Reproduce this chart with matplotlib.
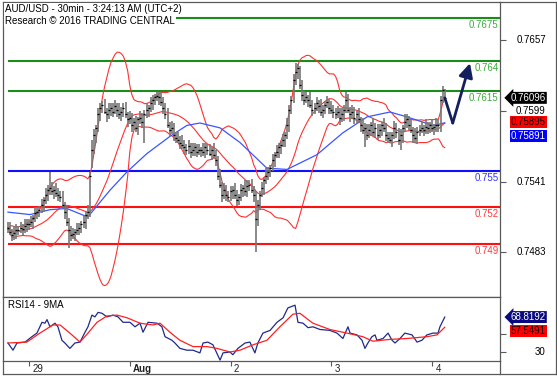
import numpy as np
import pandas as pd
import matplotlib
matplotlib.use("Agg")
import matplotlib.pyplot as plt
import matplotlib.transforms as mtransforms
from matplotlib.lines import Line2D

plt.rcParams['font.family'] = ['Liberation Sans', 'DejaVu Sans']
plt.rcParams['font.size'] = 7

# AUD/USD 30min bars, Jul 28 19:00 -> Aug 4 03:00
closes = [
    .7503, .7500, .7497, .7499, .7501, .7501, .7503, .7502, .7505, .7506,
    .7506, .7508, .7511, .7515, .7516, .7518, .7522, .7526, .7530, .7534,
    .7536, .7533, .7534, .7532, .7530, .7528, .7522, .7516, .7508, .7501,
    .7497, .7498, .7500, .7501, .7503, .7506, .7508, .7514, .7516, .7546,
    .7567, .7579, .7585, .7596, .7601, .7604, .7598, .7596, .7600, .7601,
    .7598, .7603, .7600, .7596, .7598, .7601, .7596, .7592, .7593, .7587,
    .7590, .7585, .7592, .7593, .7590, .7596, .7600, .7601, .7605, .7608,
    .7610, .7611, .7610, .7606, .7601, .7596, .7587, .7583, .7585, .7579,
    .7577, .7575, .7573, .7571, .7569, .7567, .7570, .7565, .7567, .7569,
    .7565, .7567, .7567, .7565, .7569, .7567, .7564, .7567, .7563, .7559,
    .7546, .7538, .7530, .7534, .7530, .7528, .7533, .7534, .7530, .7526,
    .7528, .7534, .7536, .7533, .7537, .7538, .7534, .7530, .7510, .7522,
    .7530, .7536, .7542, .7546, .7549, .7552, .7559, .7563, .7565, .7569,
    .7571, .7575, .7579, .7587, .7600, .7608, .7624, .7631, .7634, .7620,
    .7612, .7608, .7610, .7608, .7604, .7600, .7601, .7605, .7603, .7598,
    .7600, .7604, .7606, .7601, .7600, .7598, .7596, .7598, .7593, .7596,
    .7600, .7608, .7600, .7596, .7598, .7593, .7596, .7592, .7587, .7583,
    .7585, .7579, .7583, .7587, .7582, .7585, .7579, .7583, .7587, .7585,
    .7579, .7577, .7575, .7579, .7585, .7582, .7575, .7579, .7585, .7590,
    .7592, .7587, .7583, .7579, .7577, .7582, .7583, .7585, .7583, .7586,
    .7585, .7587, .7585, .7586, .7587, .7587, .7608, .7616, .76096,
]
highs = [
    .7508, .7508, .7502, .7505, .7506, .7505, .7508, .7506, .7510, .7510,
    .7510, .7513, .7514, .7520, .7520, .7521, .7527, .7528, .7536, .7538,
    .7549, .7541, .7537, .7540, .7536, .7533, .7533, .7524, .7522, .7511,
    .7505, .7503, .7502, .7507, .7507, .7509, .7513, .7516, .7522, .7549,
    .7575, .7584, .7587, .7601, .7605, .7607, .7609, .7601, .7605, .7605,
    .7605, .7608, .7605, .7605, .7602, .7605, .7606, .7598, .7599, .7597,
    .7593, .7595, .7594, .7599, .7597, .7600, .7605, .7604, .7610, .7612,
    .7613, .7614, .7614, .7614, .7610, .7605, .7601, .7590, .7591, .7589,
    .7582, .7582, .7578, .7579, .7575, .7572, .7575, .7573, .7573, .7573,
    .7572, .7572, .7569, .7573, .7573, .7572, .7572, .7569, .7573, .7567,
    .7562, .7551, .7541, .7540, .7538, .7533, .7537, .7537, .7540, .7534,
    .7531, .7539, .7538, .7542, .7542, .7542, .7543, .7537, .7533, .7526,
    .7533, .7541, .7545, .7552, .7553, .7555, .7564, .7565, .7571, .7573,
    .7574, .7580, .7582, .7593, .7604, .7611, .7629, .7638, .7637, .7636,
    .7624, .7615, .7614, .7612, .7614, .7608, .7605, .7610, .7608, .7609,
    .7604, .7607, .7611, .7609, .7607, .7604, .7601, .7603, .7601, .7601,
    .7604, .7614, .7613, .7602, .7604, .7602, .7599, .7601, .7594, .7593,
    .7589, .7588, .7588, .7590, .7593, .7589, .7588, .7588, .7590, .7593,
    .7589, .7582, .7582, .7582, .7591, .7589, .7585, .7584, .7587, .7596,
    .7596, .7595, .7592, .7586, .7585, .7586, .7587, .7590, .7587, .7592,
    .7590, .7590, .7592, .7588, .7593, .7592, .7611, .7619, .7617,
]
lows = [
    .7499, .7497, .7492, .7493, .7494, .7497, .7499, .7497, .7499, .7500,
    .7501, .7504, .7502, .7508, .7510, .7512, .7515, .7516, .7523, .7525,
    .7530, .7530, .7527, .7528, .7525, .7524, .7519, .7510, .7505, .7487,
    .7492, .7494, .7492, .7497, .7497, .7499, .7503, .7502, .7510, .7512,
    .7552, .7564, .7573, .7582, .7591, .7597, .7596, .7590, .7592, .7595,
    .7594, .7596, .7594, .7592, .7591, .7594, .7593, .7586, .7588, .7582,
    .7583, .7582, .7579, .7588, .7585, .7573, .7593, .7594, .7598, .7600,
    .7604, .7607, .7604, .7603, .7596, .7592, .7585, .7578, .7580, .7574,
    .7573, .7573, .7568, .7568, .7564, .7563, .7564, .7560, .7562, .7562,
    .7561, .7563, .7561, .7562, .7560, .7563, .7562, .7559, .7560, .7554,
    .7542, .7536, .7524, .7527, .7525, .7524, .7525, .7527, .7527, .7521,
    .7522, .7525, .7528, .7529, .7528, .7533, .7532, .7524, .7483, .7505,
    .7518, .7528, .7530, .7539, .7542, .7545, .7550, .7553, .7560, .7560,
    .7564, .7569, .7569, .7576, .7582, .7596, .7605, .7620, .7625, .7617,
    .7607, .7604, .7605, .7602, .7601, .7595, .7596, .7599, .7597, .7595,
    .7593, .7596, .7601, .7596, .7596, .7593, .7592, .7593, .7587, .7590,
    .7591, .7597, .7597, .7590, .7592, .7588, .7589, .7589, .7582, .7580,
    .7569, .7575, .7577, .7578, .7578, .7577, .7575, .7577, .7578, .7582,
    .7574, .7573, .7573, .7569, .7576, .7577, .7571, .7567, .7573, .7582,
    .7585, .7583, .7581, .7573, .7573, .7572, .7578, .7581, .7578, .7580,
    .7580, .7581, .7582, .7579, .7582, .7582, .7582, .7605, .7607,
]

# slow moving average (blue)
ma_bars = [0, 10.5, 20, 28, 38, 48.6, 56.7, 66.2, 77.1, 85.2, 91.4, 101,
           110.5, 123.3, 132.9, 147.1, 159.5, 171, 181.9, 190, 202.4, 208]
ma_vals = [.7516, .7514, .7518, .7519, .7512, .7534, .7549, .7564, .7578,
           .7587, .7589, .7585, .7573, .7552, .7551, .7563, .7581, .7594,
           .7598, .7594, .7587, .75891]

rsi_bars = [0, 2.4, 4.3, 8.1, 11.4, 13.8, 16.2, 17.6, 18.6, 20, 22.4, 23.8,
            25.7, 27.1, 29.5, 31.9, 34.3, 36.7, 38.1, 40, 41.4, 42.9, 44.8,
            47.1, 50, 52.4, 54.8, 58.1, 60.5, 62.9, 64.3, 66.7, 71, 73.3,
            74.8, 78.1, 79.5, 81.9, 85.2, 88.1, 91.4, 92.9, 95.2, 97.6, 101,
            102.4, 105.7, 107.1, 109.5, 112.9, 115.2, 117.6, 119, 121.4,
            124.8, 128.1, 131, 133.3, 136.7, 138.1, 140.5, 142.9, 145.2,
            148.6, 153.3, 156.7, 159.5, 161.9, 162.9, 166.2, 168.6, 170,
            171.4, 173.3, 174.8, 175.7, 178.6, 181, 182.9, 184.3, 186.7, 189,
            192.4, 194.8, 197.1, 199.5, 202.4, 204.8, 205.7, 208]
rsi_vals = [40, 32, 40, 41, 47, 51, 63, 62, 66, 58, 62, 58, 43, 40, 34, 40,
            41, 52, 58, 71, 69, 74, 73, 69, 71, 69, 63, 63, 58, 62, 52, 63,
            62, 58, 47, 43, 40, 34, 32, 32, 29, 40, 41, 38, 21, 29, 30, 27,
            34, 40, 41, 29, 40, 51, 54, 63, 68, 79, 82, 63, 62, 57, 58, 55,
            54, 51, 45, 58, 51, 49, 43, 34, 40, 47, 49, 43, 45, 51, 43, 40,
            45, 51, 49, 41, 43, 49, 51, 51, 58, 68.8]
rsi_ma_bars = [0, 9, 15.2, 21.4, 24.8, 29.5, 34.3, 38.1, 42.4, 47.1, 51.9,
               56.7, 62.9, 69, 72.4, 77.1, 81.9, 88.1, 94.8, 99.5, 105.7,
               110.5, 116.7, 123.3, 129.5, 135.7, 139, 145.2, 153.3, 161.4,
               169, 173.8, 181.9, 190, 199.5, 204.3, 208]
rsi_ma_vals = [40, 41, 51, 60, 60, 51, 41, 51, 63, 70, 71, 68, 62, 60, 62,
               52, 43, 36, 36, 34, 30, 32, 38, 43, 58, 72, 73, 62, 55, 51,
               47, 42, 44, 45, 47, 49, 57.5]

resistances = [0.7615, 0.764, 0.7675]
pivot = 0.755
supports = [0.752, 0.749]
price_ticks = [0.7657, 0.7599, 0.7541, 0.7483]
rsi_ticks = [30, 50]
day_bars = [10, 58, 106, 154, 202]
day_labels = ['29', 'Aug', '2', '3', '4']

last_price = '0.76096'
bb_mid_last = '0.75895'
ma_last = '0.75891'
rsi_last = '68.8192'
rsi_ma_last = '57.5491'

forecast_bars = [208, 211.8, 220]
forecast_prices = [0.76096, 0.7589, 0.7638]

# bollinger 20, 2
bars = np.arange(len(closes))
s = pd.Series(closes)
bb_mid = s.rolling(20, min_periods=1).mean()
bb_sd = s.rolling(20, min_periods=1).std(ddof=0)
bb_up = bb_mid + 2 * bb_sd
bb_dn = bb_mid - 2 * bb_sd

W, H = 557, 378
fig = plt.figure(figsize=(W / 100, H / 100), dpi=100)
ax = fig.add_axes([2.5 / W, 81 / H, 497.5 / W, 295 / H])
ax2 = fig.add_axes([2.5 / W, 17 / H, 497.5 / W, 64 / H], sharex=ax)

frame = '#5a5a5a'
for a in (ax, ax2):
    for sp in a.spines.values():
        sp.set_color(frame)
        sp.set_linewidth(0.9)

ax.set_xlim(-2.6, 234.3)
ax.set_ylim(0.74465, 0.76881)
ax2.set_ylim(20, 91.1)

x_end = ax.get_xlim()[1]
ax.hlines(resistances, 0, x_end, color='#1a8c1a', lw=1.5, zorder=2)
ax.hlines([pivot], 0, x_end, color='#1010ff', lw=1.5, zorder=2)
ax.hlines(supports, 0, x_end, color='#ff1010', lw=1.5, zorder=2)

blend = mtransforms.blended_transform_factory(ax.transAxes, ax.transData)
levels = [(v, '#3cab3c') for v in resistances] + [(pivot, '#3434ff')] + \
         [(v, '#ff3a3a') for v in supports]
for lv, col in levels:
    ax.annotate(f'{lv:g}', xy=(1, lv), xycoords=blend, xytext=(-1, -5),
                textcoords='offset points', ha='right', va='center',
                color=col, fontsize=7)

ax.plot(bars, bb_up, color='#ff3030', lw=0.8, zorder=3)
ax.plot(bars, bb_mid, color='#ff3030', lw=0.8, zorder=3)
ax.plot(bars, bb_dn, color='#ff3030', lw=0.8, zorder=3)
ax.plot(ma_bars, ma_vals, color='#3a55ff', lw=0.9, zorder=3)

ax.vlines(bars, lows, highs, color='#777777', lw=1.2, zorder=4)
ax.plot(bars, closes, ls='none', marker='_', ms=1.8, mew=0.9,
        color='black', zorder=5)

navy = '#14205e'
ax.plot(forecast_bars[:2], forecast_prices[:2], color=navy, lw=2,
        solid_capstyle='round', zorder=6)
ax.annotate('', xy=(forecast_bars[2], forecast_prices[2]),
            xytext=(forecast_bars[1], forecast_prices[1]),
            arrowprops=dict(arrowstyle='-|>,head_length=0.6,head_width=0.3',
                            color=navy, lw=2, shrinkA=0, shrinkB=0,
                            mutation_scale=14), zorder=6)

ax.yaxis.tick_right()
ax.set_yticks(price_ticks)
ax.tick_params(axis='y', direction='out', length=4, width=0.8, color=frame,
               labelright=False, labelleft=False)
ax.tick_params(axis='x', bottom=False, labelbottom=False)
for v in price_ticks:
    ax.annotate(f'{v:.4f}', xy=(1, v), xycoords=blend, xytext=(33, 0),
                textcoords='offset points', ha='right', va='center',
                fontsize=7, annotation_clip=False)


def tag(a, y, txt, fc, tc, arrow=False, dy=0):
    bl = mtransforms.blended_transform_factory(a.transAxes, a.transData)
    style = 'larrow,pad=0.1' if arrow else 'square,pad=0.1'
    a.annotate(txt, xy=(1, y), xycoords=bl, xytext=(33, dy),
               textcoords='offset points', ha='right', va='center',
               color=tc, fontsize=7, annotation_clip=False, zorder=10,
               bbox=dict(boxstyle=style, fc=fc, ec='none'))


tag(ax, float(last_price), last_price, 'black', 'white', arrow=True)
tag(ax, float(bb_mid_last), bb_mid_last, '#ff0000', '#1a0000')
tag(ax, float(ma_last), ma_last, '#0000ff', 'white', dy=-9.5)

ax.text(0.005, 0.976, 'AUD/USD - 30min - 3:24:13 AM (UTC+2)',
        transform=ax.transAxes, va='center', ha='left', fontsize=7,
        zorder=8, bbox=dict(boxstyle='square,pad=0.15', fc='white', ec='none'))
ax.text(0.005, 0.9356, 'Research \u00a9 2016 TRADING CENTRAL',
        transform=ax.transAxes, va='center', ha='left', fontsize=7,
        zorder=8, bbox=dict(boxstyle='square,pad=0.15', fc='white', ec='none'))

# RSI panel
ax2.plot(rsi_bars, rsi_vals, color='#1f2a8a', lw=0.9, zorder=3)
ax2.plot(rsi_ma_bars, rsi_ma_vals, color='#ff2020', lw=0.9, zorder=3)
ax2.text(0.011, 0.953, 'RSI14 - 9MA', transform=ax2.transAxes, va='top',
         ha='left', fontsize=7)

ax2.yaxis.tick_right()
ax2.set_yticks(rsi_ticks)
ax2.tick_params(axis='y', direction='out', length=4, width=0.8, color=frame,
                labelright=False, labelleft=False)
blend2 = mtransforms.blended_transform_factory(ax2.transAxes, ax2.transData)
for v in rsi_ticks:
    ax2.annotate(str(v), xy=(1, v), xycoords=blend2, xytext=(33, 0),
                 textcoords='offset points', ha='right', va='center',
                 fontsize=7, annotation_clip=False)
tag(ax2, float(rsi_last), rsi_last, '#0a0a80', 'white', arrow=True)
tag(ax2, float(rsi_ma_last), rsi_ma_last, '#ff0000', '#1a0000', dy=-3)

ax2.set_xticks(day_bars)
ax2.tick_params(axis='x', direction='out', length=3.5, width=0.8,
                color=frame, labelbottom=False)
bx = mtransforms.blended_transform_factory(ax2.transData, ax2.transAxes)
for b, lab in zip(day_bars, day_labels):
    ax2.annotate(lab, xy=(b, 0), xycoords=bx, xytext=(2.4, -2),
                 textcoords='offset points', ha='left', va='top', fontsize=7,
                 fontweight='bold' if lab == 'Aug' else 'normal',
                 color='#202020', annotation_clip=False)

# outer frame pieces outside the axes
def fline(x0, y0, x1, y1):
    fig.add_artist(Line2D([x0 / W, x1 / W], [1 - y0 / H, 1 - y1 / H],
                          transform=fig.transFigure, color=frame, lw=0.9))


fline(2.5, 361, 2.5, 374)
fline(2.5, 374, 556, 374)
fline(500, 361, 500, 374)
fline(500, 2, 556, 2)
fline(556, 2, 556, 374)

fig.savefig('out.png', dpi=100)
